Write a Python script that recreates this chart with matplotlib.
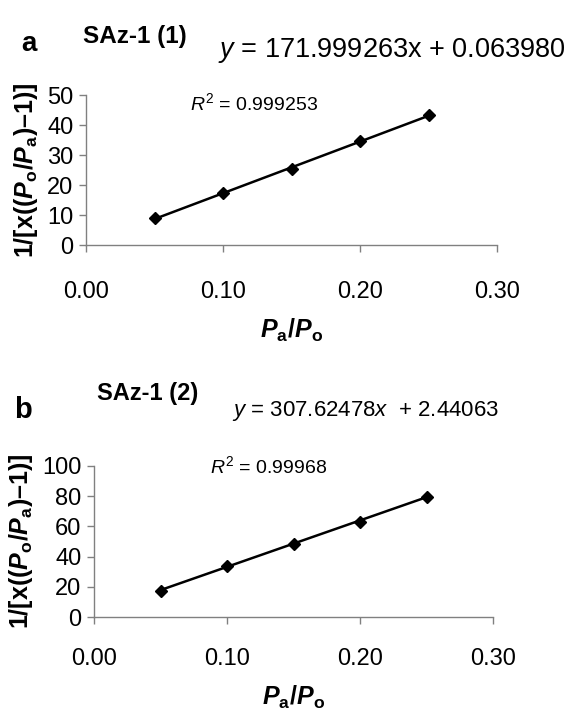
import matplotlib.pyplot as plt
import numpy as np

plt.rcParams['font.family'] = ['Liberation Sans', 'DejaVu Sans']
plt.rcParams['mathtext.fontset'] = 'custom'
plt.rcParams['mathtext.rm'] = 'Liberation Sans'
plt.rcParams['mathtext.it'] = 'Liberation Sans:italic'
plt.rcParams['mathtext.bf'] = 'Liberation Sans:bold'
plt.rcParams['mathtext.bfit'] = 'Liberation Sans:bold:italic'

# data
pa_po = [0.05, 0.10, 0.15, 0.20, 0.25]
y_sample1 = [9.0, 17.3, 25.4, 34.7, 43.3]
y_sample2 = [17.5, 33.8, 48.3, 63.2, 79.5]

# fitted trend lines (as printed on the chart)
slope1, icpt1 = 171.999263, 0.063980
slope2, icpt2 = 307.62478, 2.44063

x_ticks = [0.00, 0.10, 0.20, 0.30]
y_ticks1 = [0, 10, 20, 30, 40, 50]
y_ticks2 = [0, 20, 40, 60, 80, 100]

W, H = 586, 712
fig = plt.figure(figsize=(W / 100, H / 100), dpi=100)


def px(x, y):
    # pixel coords (from top-left) -> figure fraction
    return x / W, 1 - y / H


def make_panel(rect, xs, ys, slope, icpt, yticks, xpad, xlabpad):
    ax = fig.add_axes(rect)
    xl = np.array([xs[0], xs[-1]])
    ax.plot(xl, slope * xl + icpt, color='black', lw=1.8, zorder=2)
    ax.plot(xs, ys, ls='none', marker='D', ms=6.5, color='black', zorder=3)
    ax.set_xlim(0, 0.30)
    ax.set_ylim(yticks[0], yticks[-1])
    ax.set_xticks(x_ticks)
    ax.set_xticklabels(['%.2f' % t for t in x_ticks])
    ax.set_yticks(yticks)
    for s in ['top', 'right']:
        ax.spines[s].set_visible(False)
    for s in ['left', 'bottom']:
        ax.spines[s].set_color('#808080')
        ax.spines[s].set_linewidth(1)
    ax.tick_params(axis='both', direction='out', length=5, width=1,
                   color='#808080', labelsize=17)
    ax.tick_params(axis='x', pad=xpad)
    ax.tick_params(axis='y', pad=4)
    ax.set_xlabel(r'$\mathbfit{P}_\mathbf{a}\mathbf{/}\mathbfit{P}_\mathbf{o}$',
                  fontsize=18, labelpad=xlabpad)
    ax.set_ylabel('1/[x((' + r'$\mathbfit{P}_\mathbf{o}$' + '/' +
                  r'$\mathbfit{P}_\mathbf{a}$' + ')–1)]',
                  fontsize=18, fontweight='bold', labelpad=5)
    ax.patch.set_alpha(0)
    return ax


# panel a
l, b = px(86, 245)
r, t = px(497, 95)
ax1 = make_panel([l, b, r - l, t - b], pa_po, y_sample1, slope1, icpt1, y_ticks1,
                 xpad=21, xlabpad=10)
# panel b
l, b = px(94, 617)
r, t = px(493, 466)
ax2 = make_panel([l, b, r - l, t - b], pa_po, y_sample2, slope2, icpt2, y_ticks2,
                 xpad=17, xlabpad=10)

fig.text(*px(29, 51), 'a', fontsize=20, fontweight='bold', ha='center', va='baseline')
fig.text(*px(83, 43), 'SAz-1 (1)', fontsize=17.5, fontweight='bold', va='baseline')
fig.text(*px(218, 57), r'$y$ = %.6fx + %.6f' % (slope1, icpt1), fontsize=19.5, va='baseline')
fig.text(*px(190, 110), r'$R^2$ = 0.999253', fontsize=14, va='baseline')

fig.text(*px(23, 418), 'b', fontsize=21, fontweight='bold', ha='center', va='baseline')
fig.text(*px(97, 400), 'SAz-1 (2)', fontsize=17, fontweight='bold', va='baseline')
fig.text(*px(232, 416), r'$y$ = %.5f$x$  + %.5f' % (slope2, icpt2), fontsize=16, va='baseline')
fig.text(*px(210, 473), r'$R^2$ = 0.99968', fontsize=14, va='baseline')

fig.savefig('out.png', dpi=100)
